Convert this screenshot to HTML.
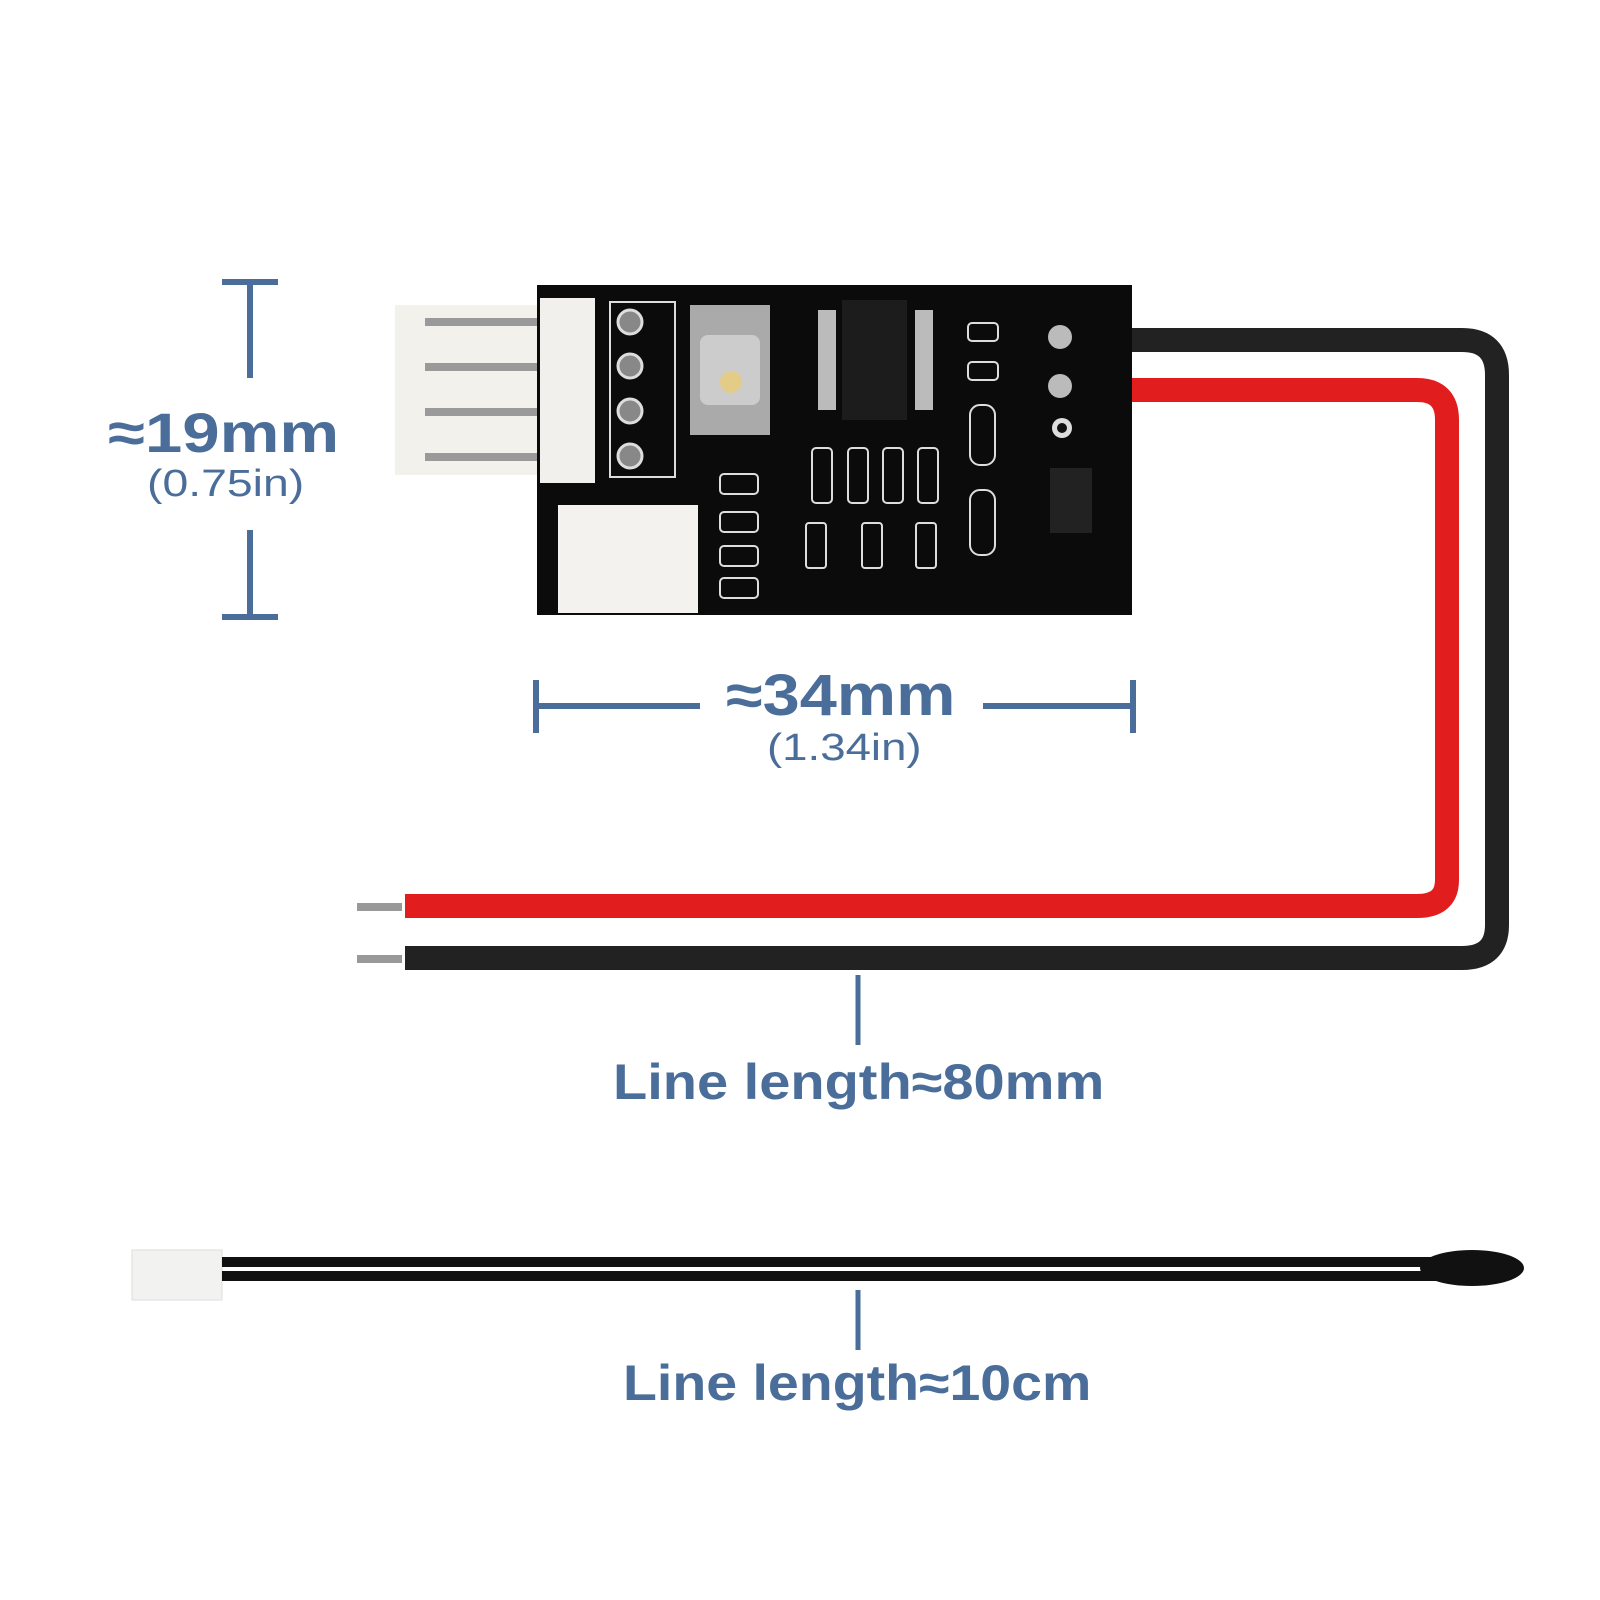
<!DOCTYPE html>
<html><head><meta charset="utf-8"><style>
html,body{margin:0;padding:0;background:#fff;}
body{width:1600px;height:1600px;position:relative;overflow:hidden;font-family:"Liberation Sans",sans-serif;}
.t{position:absolute;color:#4a6e99;white-space:nowrap;transform-origin:0 0;}
</style></head><body>
<svg width="1600" height="1600" style="position:absolute;left:0;top:0">
<g stroke="#4a6e99" stroke-width="6" fill="none">
<line x1="250" y1="282" x2="250" y2="378"/><line x1="222" y1="282" x2="278" y2="282"/>
<line x1="250" y1="530" x2="250" y2="617"/><line x1="222" y1="617" x2="278" y2="617"/>
<line x1="536" y1="680" x2="536" y2="733"/><line x1="536" y1="706" x2="700" y2="706"/>
<line x1="983" y1="706" x2="1133" y2="706"/><line x1="1133" y1="680" x2="1133" y2="733"/>
<line x1="858" y1="975" x2="858" y2="1045" stroke-width="5"/>
<line x1="858" y1="1290" x2="858" y2="1350" stroke-width="5"/>
</g>
<path d="M1100 340 H1462 Q1497 340 1497 375 V925 Q1497 958 1462 958 H405" stroke="#222" stroke-width="24" fill="none"/>
<path d="M1100 390 H1417 Q1447 390 1447 420 V880 Q1447 906 1417 906 H405" stroke="#e11d1d" stroke-width="24" fill="none"/>
<rect x="357" y="903" width="45" height="8" fill="#999"/>
<rect x="357" y="955" width="45" height="8" fill="#999"/>
<rect x="395" y="305" width="150" height="170" fill="#f3f1ec"/>
<g fill="#9a9a9a"><rect x="425" y="318" width="160" height="8"/><rect x="425" y="363" width="160" height="8"/><rect x="425" y="408" width="160" height="8"/><rect x="425" y="453" width="160" height="8"/></g>
<rect x="537" y="285" width="595" height="330" fill="#0b0b0b"/>
<rect x="540" y="298" width="55" height="185" fill="#f2f0ec"/>
<rect x="610" y="302" width="65" height="175" fill="none" stroke="#ddd" stroke-width="2"/>
<g fill="#888" stroke="#ddd" stroke-width="3"><circle cx="630" cy="322" r="12"/><circle cx="630" cy="366" r="12"/><circle cx="630" cy="411" r="12"/><circle cx="630" cy="456" r="12"/></g>
<rect x="558" y="505" width="140" height="108" fill="#f4f2ee"/>
<rect x="690" y="305" width="80" height="130" fill="#aaa"/>
<rect x="700" y="335" width="60" height="70" rx="8" fill="#ccc"/>
<circle cx="731" cy="382" r="11" fill="#e3cc88"/>
<rect x="842" y="300" width="65" height="120" fill="#1c1c1c"/>
<g fill="#bbb"><rect x="818" y="310" width="18" height="100"/><rect x="915" y="310" width="18" height="100"/></g>
<g fill="none" stroke="#ddd" stroke-width="2">
<rect x="968" y="323" width="30" height="18" rx="4"/><rect x="968" y="362" width="30" height="18" rx="4"/>
<rect x="812" y="448" width="20" height="55" rx="4"/><rect x="848" y="448" width="20" height="55" rx="4"/><rect x="883" y="448" width="20" height="55" rx="4"/><rect x="918" y="448" width="20" height="55" rx="4"/>
<rect x="720" y="474" width="38" height="20" rx="4"/><rect x="720" y="512" width="38" height="20" rx="4"/><rect x="720" y="546" width="38" height="20" rx="4"/><rect x="720" y="578" width="38" height="20" rx="4"/>
<rect x="806" y="523" width="20" height="45" rx="3"/><rect x="862" y="523" width="20" height="45" rx="3"/><rect x="916" y="523" width="20" height="45" rx="3"/>
<rect x="970" y="405" width="25" height="60" rx="10"/><rect x="970" y="490" width="25" height="65" rx="10"/>
</g>
<rect x="1050" y="468" width="42" height="65" fill="#222"/>
<g fill="#bbb"><circle cx="1060" cy="337" r="12"/><circle cx="1060" cy="386" r="12"/></g>
<circle cx="1062" cy="428" r="10" fill="#ddd"/><circle cx="1062" cy="428" r="5" fill="#111"/>
<rect x="132" y="1250" width="90" height="50" fill="#f2f2f0" stroke="#ddd"/>
<rect x="222" y="1257" width="1240" height="10" fill="#111"/>
<rect x="222" y="1271" width="1240" height="10" fill="#111"/>
<ellipse cx="1472" cy="1268" rx="52" ry="18" fill="#111"/>
</svg>
<div class="t" style="left:108px;top:400px;font-size:56px;font-weight:bold;transform:scaleX(1.2)">≈19mm</div>
<div class="t" style="left:147px;top:463px;font-size:38px;transform:scaleX(1.22)">(0.75in)</div>
<div class="t" style="left:726px;top:662px;font-size:58px;font-weight:bold;transform:scaleX(1.15)">≈34mm</div>
<div class="t" style="left:767px;top:727px;font-size:38px;transform:scaleX(1.2)">(1.34in)</div>
<div class="t" style="left:613px;top:1053px;font-size:50px;font-weight:bold;transform:scaleX(1.12)">Line length≈80mm</div>
<div class="t" style="left:623px;top:1354px;font-size:50px;font-weight:bold;transform:scaleX(1.11)">Line length≈10cm</div>
</body></html>
